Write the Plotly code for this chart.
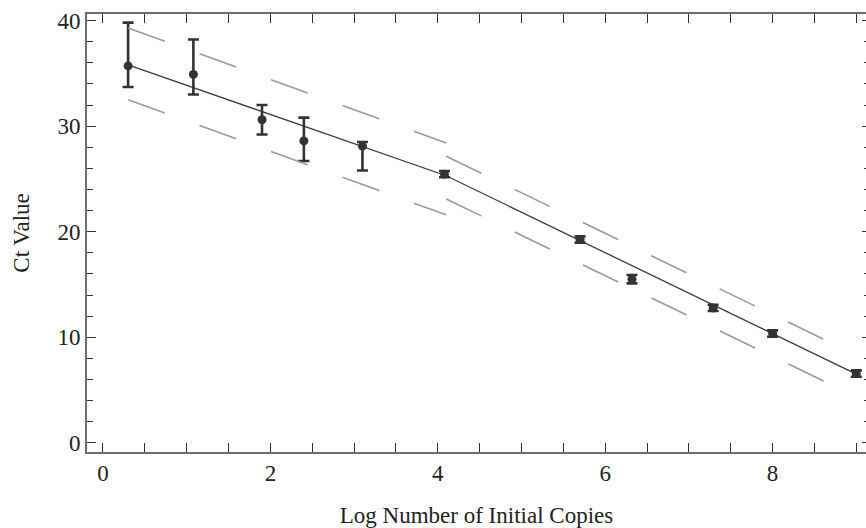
import plotly.graph_objects as go

# Data
log_copies = [0.3, 1.08, 1.9, 2.4, 3.1, 4.08, 5.7, 6.32, 7.29, 8.0, 9.0]
ct_value = [35.7, 34.9, 30.6, 28.6, 28.1, 25.45, 19.26, 15.5, 12.78, 10.35, 6.56]
err_plus = [4.1, 3.3, 1.4, 2.2, 0.4, 0.3, 0.3, 0.4, 0.3, 0.3, 0.3]
err_minus = [2.0, 1.9, 1.4, 1.9, 2.3, 0.3, 0.3, 0.4, 0.3, 0.3, 0.3]

fit_x = [0.3, 4.1, 9.0]
fit_y = [35.8, 25.3, 6.5]

band1_x = [0.3, 4.1]
band1_upper = [39.3, 28.4]
band1_lower = [32.5, 21.6]
band2_x = [4.1, 8.65]
band2_upper = [27.15, 9.65]
band2_lower = [23.1, 5.7]

x_ticks = [0, 2, 4, 6, 8]
y_ticks = [0, 10, 20, 30, 40]

FONT = "Liberation Serif"
FS = 23
AXIS_COLOR = "#6e6e6e"
TICK_COLOR = "#333333"
BAND_COLOR = "#9a9a9a"
DASH = "39px,37px"

fig = go.Figure()

for bx, by in [(band1_x, band1_upper), (band1_x, band1_lower),
               (band2_x, band2_upper), (band2_x, band2_lower)]:
    fig.add_trace(go.Scatter(
        x=bx, y=by, mode="lines", yaxis="y2",
        line=dict(color=BAND_COLOR, width=1.6, dash=DASH),
        hoverinfo="skip", showlegend=False))

fig.add_trace(go.Scatter(
    x=fit_x, y=fit_y, mode="lines",
    line=dict(color="#3c3c3c", width=1.3),
    showlegend=False))

fig.add_trace(go.Scatter(
    x=log_copies, y=ct_value, mode="markers", cliponaxis=False,
    marker=dict(color="#333333", size=9),
    error_y=dict(type="data", symmetric=False, array=err_plus,
                 arrayminus=err_minus, color="#333333",
                 thickness=2.6, width=5.5),
    showlegend=False))

fig.update_layout(
    width=866, height=528,
    margin=dict(l=87, r=0, t=14, b=76),
    paper_bgcolor="white", plot_bgcolor="white",
    font=dict(family=FONT, size=FS, color="#222222"),
    xaxis=dict(
        range=[-0.191, 9.116], tickvals=x_ticks, automargin=False,
        ticks="inside", ticklen=9, tickwidth=1.2, tickcolor=TICK_COLOR,
        minor=dict(dtick=0.5, tick0=0, ticks="inside", ticklen=5,
                   tickwidth=1.2, tickcolor=TICK_COLOR, showgrid=False),
        showline=True, linecolor=AXIS_COLOR, linewidth=1.6,
        mirror="allticks", showgrid=False, zeroline=False,
        tickfont=dict(family=FONT, size=FS, color="#222222"),
        title=dict(text="Log Number of Initial Copies",
                   font=dict(family=FONT, size=FS, color="#222222"),
                   standoff=26),
    ),
    yaxis=dict(
        range=[-0.87, 40.62], tickvals=y_ticks, automargin=False,
        ticks="inside", ticklen=9, tickwidth=1.2, tickcolor=TICK_COLOR,
        minor=dict(dtick=2, tick0=0, ticks="inside", ticklen=6,
                   tickwidth=1.2, tickcolor=TICK_COLOR, showgrid=False),
        showline=True, linecolor=AXIS_COLOR, linewidth=1.6,
        mirror=False, showgrid=False, zeroline=False,
        tickfont=dict(family=FONT, size=FS, color="#222222"),
        title=dict(text="Ct Value",
                   font=dict(family=FONT, size=FS, color="#222222"),
                   standoff=22),
    ),
    yaxis2=dict(
        range=[-0.87, 40.62], overlaying="y", side="right", anchor="x",
        tickvals=y_ticks, showticklabels=False, automargin=False,
        ticks="inside", ticklen=4, tickwidth=1.2, tickcolor=TICK_COLOR,
        minor=dict(dtick=2, tick0=0, ticks="inside", ticklen=2,
                   tickwidth=1.2, tickcolor=TICK_COLOR, showgrid=False),
        showline=False, showgrid=False, zeroline=False,
    ),
)

fig.write_html("out.html",
               config={"displayModeBar": False},
               post_script="document.body.style.margin='0';")
